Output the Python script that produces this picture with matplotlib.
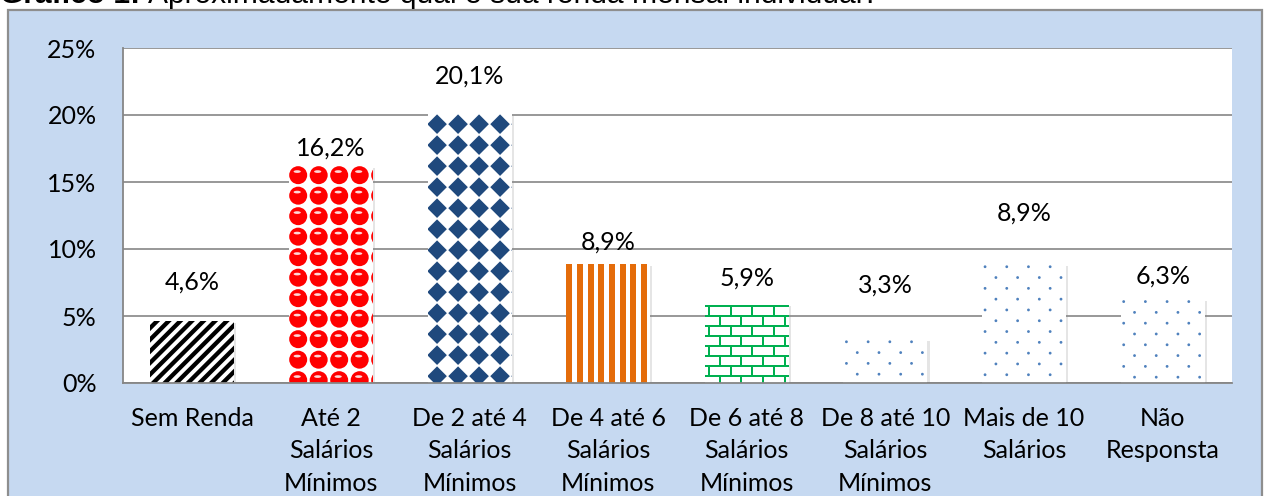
import matplotlib
matplotlib.use("Agg")
import matplotlib.pyplot as plt
import numpy as np
from matplotlib.patches import Rectangle, Circle, Polygon, Ellipse
from matplotlib.collections import LineCollection, PatchCollection
from matplotlib.transforms import IdentityTransform
import matplotlib.patheffects as pe

# ---------------- data ----------------
categories = ["Sem Renda",
              "Até 2\nSalários\nMínimos",
              "De 2 até 4\nSalários\nMínimos",
              "De 4 até 6\nSalários\nMínimos",
              "De 6 até 8\nSalários\nMínimos",
              "De 8 até 10\nSalários\nMínimos",
              "Mais de 10\nSalários",
              "Não\nResponsta"]
values = [4.6, 16.2, 20.1, 8.9, 5.9, 3.3, 8.9, 6.3]
value_labels = ["4,6%", "16,2%", "20,1%", "8,9%", "5,9%", "3,3%", "8,9%", "6,3%"]
label_heights = [7.5, 17.5, 22.9, 10.5, 7.8, 7.3, 12.7, 8.0]
yticks = [0, 5, 10, 15, 20, 25]
ytick_labels = ["0%", "5%", "10%", "15%", "20%", "25%"]
title_bold = "Gráfico 1:"
title_rest = "Aproximadamente qual é sua renda mensal individual?"

# ---------------- layout ----------------
W, H, DPI = 1265, 496, 100
fig = plt.figure(figsize=(W / DPI, H / DPI), dpi=DPI)
fig.patch.set_facecolor("white")

FONT = ["Lato", "DejaVu Sans"]
FS = 18

# outer chart box
box = Rectangle((8 / W, -0.05), (1262 - 8) / W, (H - 10) / H + 0.05,
                transform=fig.transFigure, facecolor="#C6D9F1",
                edgecolor="#8E8E8E", linewidth=1.6, zorder=-5)
fig.patches.append(box)

# title (partly cut at top)
r = fig.canvas.get_renderer()
TFS = 21.6
TY = 1 - 3 / H
t1 = fig.text(0.0, TY, title_bold + " ", fontsize=TFS, fontweight="bold",
              family="Liberation Sans", va="baseline", ha="left")
bb = t1.get_window_extent(r)
fig.text(bb.x1 / W, TY, title_rest, fontsize=TFS,
         family="Liberation Sans", va="baseline", ha="left")

L, R, T, B = 123, 1232, 48, 383
ax = fig.add_axes([L / W, (H - B) / H, (R - L) / W, (B - T) / H])
ax.set_zorder(2)
ax.set_facecolor("white")
ax.set_axisbelow(True)
ax.set_xlim(-0.5, len(values) - 0.5)
ax.set_ylim(0, 25)
ax.set_autoscale_on(False)

for s in ["top", "right"]:
    ax.spines[s].set_visible(False)
for s in ["left", "bottom"]:
    ax.spines[s].set_color("#868686")
    ax.spines[s].set_linewidth(1.3)

ax.set_yticks(yticks)
ax.set_yticklabels(ytick_labels, fontsize=FS, family=FONT)
ax.set_xticks(range(len(categories)))
ax.set_xticklabels(categories, fontsize=FS, family=FONT, linespacing=1.52, va="top")
ax.tick_params(axis="y", length=0, pad=19)
ax.tick_params(axis="x", length=0, pad=17)
ax.yaxis.grid(True, color="#868686", linewidth=1.2)

bars = ax.bar(range(len(values)), values, width=0.606, color="white",
              edgecolor="none", linewidth=0, zorder=2)
for b in bars:
    b.set_path_effects([pe.SimplePatchShadow(offset=(1.5, -1.5), shadow_rgbFace="#8a8a8a", alpha=0.22),
                        pe.Normal()])

IDT = IdentityTransform()


def bar_px(bar):
    x0, y0 = bar.get_x(), bar.get_y()
    x1, y1 = x0 + bar.get_width(), y0 + bar.get_height()
    (px0, py0), (px1, py1) = ax.transData.transform([(x0, y0), (x1, y1)])
    return px0, py0, px1, py1


def add_clipped(coll, bar, z=2.2):
    coll.set_transform(IDT)
    coll.set_zorder(z)
    ax.add_collection(coll, autolim=False)
    coll.set_clip_path(bar)


def diag_stripes(bar, period, width, color):
    px0, py0, px1, py1 = bar_px(bar)
    segs = []
    c = py0 - px1 - period
    while c < py1 - px0 + period:
        segs.append([(px0 - 10, px0 - 10 + c), (px1 + 10, px1 + 10 + c)])
        c += period
    add_clipped(LineCollection(segs, colors=color, linewidths=width * 72 / DPI), bar)


def vert_stripes(bar, period, width, color):
    px0, py0, px1, py1 = bar_px(bar)
    rects = []
    x = px0
    while x < px1:
        rects.append(Rectangle((x, py0 - 2), width, py1 - py0 + 4))
        x += period
    add_clipped(PatchCollection(rects, facecolor=color, edgecolor="none"), bar)


def spheres(bar, period, radius, color):
    px0, py0, px1, py1 = bar_px(bar)
    circ, hl = [], []
    y = py1 - period / 2 + 1
    while y > py0 - period:
        x = px0 + period / 2 - 1
        while x < px1 + period:
            circ.append(Circle((x, y), radius))
            hl.append(Ellipse((x - 1, y + radius * 0.4), radius * 0.8, radius * 0.3))
            x += period
        y -= period
    add_clipped(PatchCollection(circ, facecolor=color, edgecolor="none"), bar)
    add_clipped(PatchCollection(hl, facecolor="white", edgecolor="none", alpha=0.85), bar, 2.3)


def diamonds(bar, period, half, color):
    px0, py0, px1, py1 = bar_px(bar)
    polys = []
    y = py1 - period / 2
    while y > py0 - period:
        x = px0 + period / 2 - 1
        while x < px1 + period:
            polys.append(Polygon([(x - half, y), (x, y + half), (x + half, y), (x, y - half)]))
            x += period
        y -= period
    add_clipped(PatchCollection(polys, facecolor=color, edgecolor="none"), bar)


def bricks(bar, row, brick, width, color):
    px0, py0, px1, py1 = bar_px(bar)
    segs = []
    y = py1 - 2
    k = 0
    while y > py0 - row:
        segs.append([(px0 - 2, y), (px1 + 2, y)])
        off = 0 if k % 2 == 0 else brick / 2
        x = px0 + 4 + off
        while x < px1 + brick:
            segs.append([(x, y), (x, y - row)])
            x += brick
        y -= row
        k += 1
    add_clipped(LineCollection(segs, colors=color, linewidths=width * 72 / DPI), bar)


def dots(bar, period, row, radius, color):
    px0, py0, px1, py1 = bar_px(bar)
    circ = []
    y = py1 - 3
    k = 0
    while y > py0 - row:
        off = 0 if k % 2 == 0 else period / 2
        x = px0 + 3 + off
        while x < px1 + period:
            circ.append(Circle((x, y), radius))
            x += period
        y -= row
        k += 1
    add_clipped(PatchCollection(circ, facecolor=color, edgecolor="none"), bar)


diag_stripes(bars[0], 11.6, 4.3, "black")
spheres(bars[1], 20.5, 9.0, "#FF0000")
diamonds(bars[2], 21.0, 9.8, "#1F497D")
vert_stripes(bars[3], 10.7, 6.0, "#E46C0A")
bricks(bars[4], 10.0, 21.7, 2.0, "#00B050")
for i in (5, 6, 7):
    dots(bars[i], 21.7, 10.8, 1.4, "#4F81BD")

for i, (lab, hgt) in enumerate(zip(value_labels, label_heights)):
    ax.text(i, hgt, lab, ha="center", va="center", fontsize=FS, family=FONT, zorder=4)

fig.savefig("out.png", dpi=DPI)
